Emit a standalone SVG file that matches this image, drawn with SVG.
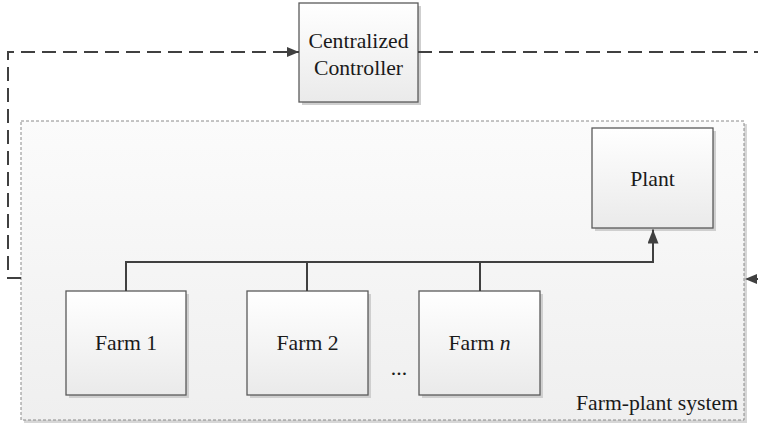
<svg xmlns="http://www.w3.org/2000/svg" width="758" height="424" viewBox="0 0 758 424">
  <defs>
    <linearGradient id="boxFill" x1="0" y1="0" x2="0" y2="1">
      <stop offset="0" stop-color="#ffffff"/>
      <stop offset="1" stop-color="#eaeaea"/>
    </linearGradient>
    <linearGradient id="sysFill" x1="0" y1="0" x2="0" y2="1">
      <stop offset="0" stop-color="#fbfbfb"/>
      <stop offset="1" stop-color="#efefef"/>
    </linearGradient>
    <marker id="arrow" viewBox="0 0 12 10" refX="12" refY="5" markerWidth="12" markerHeight="10" markerUnits="userSpaceOnUse" orient="auto">
      <path d="M0,0 L12,5 L0,10 Z" fill="#404040"/>
    </marker>
    <marker id="arrowUp" viewBox="0 0 14 11" refX="14" refY="5.5" markerWidth="14" markerHeight="11" markerUnits="userSpaceOnUse" orient="auto">
      <path d="M0,0 L14,5.5 L0,11 Z" fill="#404040"/>
    </marker>
  </defs>
  <style>
    .shadow { fill: #cfcfcf; }
    .box { fill: url(#boxFill); stroke: #5a5a5a; stroke-width: 1.3; }
    .label { font-family: "Liberation Serif", "Times New Roman", serif; font-size: 21.7px; fill: #1a1a1a; text-anchor: middle; }
    .bus { fill: none; stroke: #404040; stroke-width: 2; }
    .feedback { fill: none; stroke: #404040; stroke-width: 2; stroke-dasharray: 14 7; }
  </style>

  <rect width="758" height="424" fill="#ffffff"/>

  <!-- farm-plant system container -->
  <g id="farm-plant-system">
    <rect x="24" y="124" width="723" height="299" fill="#d6d6d6"/>
    <rect x="21" y="121" width="723" height="299" fill="url(#sysFill)" stroke="#8a8a8a" stroke-width="1" stroke-dasharray="3 2"/>
    <text class="label" x="657" y="410">Farm-plant system</text>
  </g>

  <!-- controller -->
  <g id="controller">
    <rect class="shadow" x="302" y="6" width="119" height="99"/>
    <rect class="box" x="299" y="3" width="119" height="99"/>
    <text class="label" x="358.5" y="48">Centralized</text>
    <text class="label" x="358.5" y="75">Controller</text>
  </g>

  <!-- plant -->
  <g id="plant">
    <rect class="shadow" x="595" y="131" width="121" height="100"/>
    <rect class="box" x="592" y="128" width="121" height="100"/>
    <text class="label" x="652.5" y="186">Plant</text>
  </g>

  <!-- farms -->
  <g id="farm-1">
    <rect class="shadow" x="69" y="294" width="120" height="104"/>
    <rect class="box" x="66" y="291" width="120" height="104"/>
    <text class="label" x="126" y="350">Farm 1</text>
  </g>
  <g id="farm-2">
    <rect class="shadow" x="250" y="294" width="121" height="104"/>
    <rect class="box" x="247" y="291" width="121" height="104"/>
    <text class="label" x="307.5" y="350">Farm 2</text>
  </g>
  <g id="farm-n">
    <rect class="shadow" x="422" y="294" width="121" height="104"/>
    <rect class="box" x="419" y="291" width="121" height="104"/>
    <text class="label" x="479.5" y="350">Farm <tspan font-style="italic">n</tspan></text>
  </g>
  <text class="label" x="399" y="375">...</text>

  <!-- connectors -->
  <g id="connectors">
    <path class="bus" d="M126,291 V262 H653 V229.5" marker-end="url(#arrowUp)"/>
    <path class="bus" d="M307,291 V262"/>
    <path class="bus" d="M480,291 V262"/>
    <path class="feedback" d="M21,278 H8 V52 H299" marker-end="url(#arrow)"/>
    <path class="feedback" d="M418,52 H770 V279 H745" marker-end="url(#arrow)"/>
  </g>
</svg>
